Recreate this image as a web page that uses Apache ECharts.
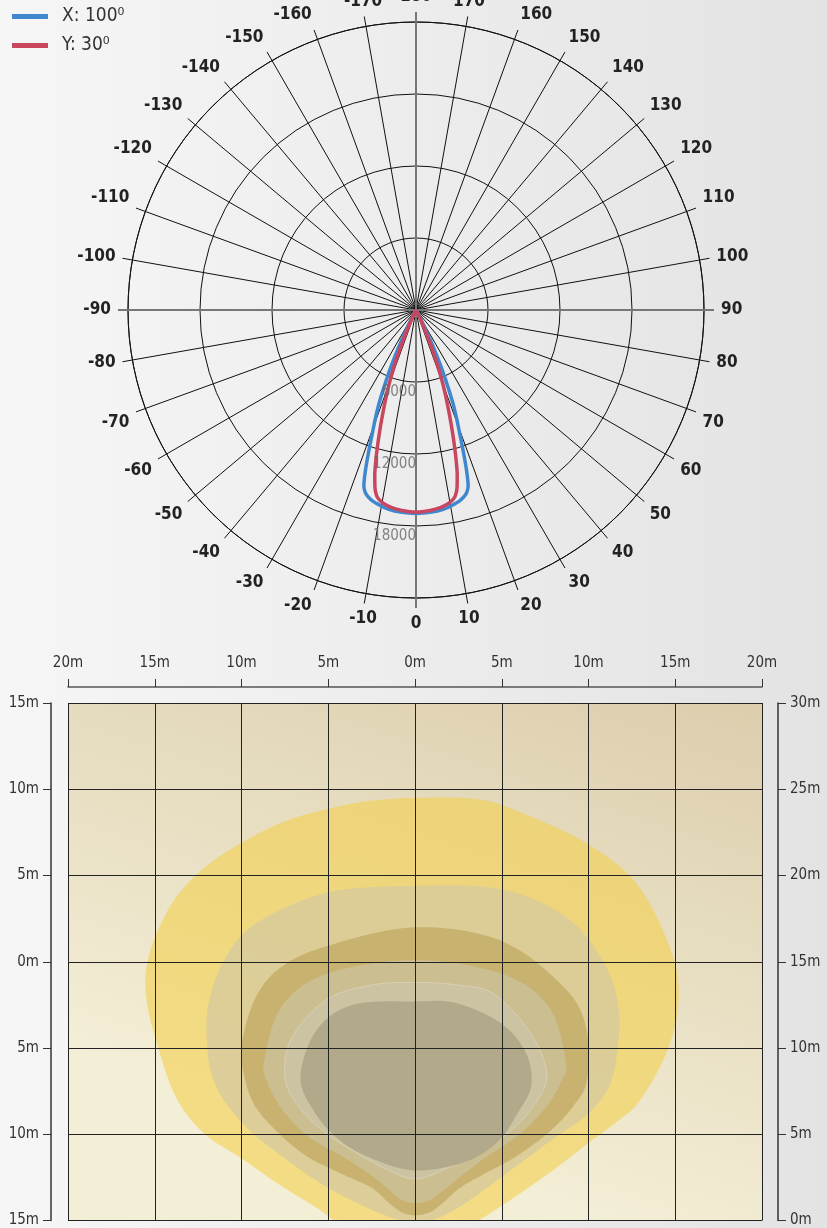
<!DOCTYPE html>
<html><head><meta charset="utf-8">
<script src="https://cdn.jsdelivr.net/npm/echarts@6/dist/echarts.min.js"></script>
<style>html,body{margin:0;padding:0;width:827px;height:1228px;overflow:hidden}#c{width:827px;height:1228px}</style>
</head><body><div id="c"></div>
<script>
const FONT = "'Liberation Sans Narrow','DejaVu Sans Condensed',Roboto,sans-serif";

// ---------- polar (candela) data ----------
const seriesNames = ['X: 100\u2070', 'Y: 30\u2070'];
const blueAngles = [-32,-29,-27.5,-26.5,-25.5,-24.5,-23.5,-22.5,-21.5,-20.5,-19.5,-18.5,-17.5,-16.5,-15.5,-14.5,-13,-11,-8,-4,0,4,8,11,13,14.5,15.5,16.5,17.5,18.5,19.5,20.5,21.5,22.5,23.5,24.5,25.5,26.5,27.5,29,32];
const blueValues = [0,150,700,1600,2800,4200,5600,7000,8500,9700,10900,12400,14000,15300,15800,16050,16300,16500,16750,16900,16950,16900,16750,16500,16300,16050,15800,15300,14000,12400,10900,9700,8500,7000,5600,4200,2800,1600,700,150,0];
const redAngles = [-28,-26,-25,-24,-23,-22,-21,-20,-19,-18,-17,-16,-15,-14,-13,-12,-11,-9.5,-7,-4,0,4,7,9.5,11,12,13,14,15,16,17,18,19,20,21,22,23,24,25,26,28];
const redValues = [0,300,900,1800,2900,4100,5300,6500,7600,8800,10100,11500,12900,14200,15200,15800,16100,16350,16600,16750,16850,16750,16600,16350,16100,15800,15200,14200,12900,11500,10100,8800,7600,6500,5300,4100,2900,1800,900,300,0];
const radiusLabelValues = [6000, 12000, 18000];

// ---------- isolux contour data (metres) ----------
const contourA = [[0,9.5],[3.8,9.4],[6.7,8.4],[10,6.8],[12.8,4.5],[14.7,0.8],[15.2,-2],[14.6,-5],[13,-8],[11.6,-9.3],[10,-10.5],[7.8,-12.2],[5.2,-14.0],[2.9,-15.4],[0,-16.4],[-3.9,-15.4],[-5.6,-14.3],[-7.7,-13],[-10,-11.4],[-12.1,-10],[-13.7,-8],[-14.8,-5],[-15.5,-2],[-15.3,0.5],[-14.0,3.4],[-12.2,5.4],[-10,6.9],[-7.6,8.1],[-5.3,8.8],[-2.8,9.3]];
const contourB = [[0,4.4],[5.0,4.2],[8.7,2.6],[10.8,0.1],[11.7,-2.4],[11.7,-4.9],[11.2,-7.2],[10.0,-8.8],[8.2,-10.1],[5.9,-11.8],[3.6,-13.5],[1.9,-14.6],[0,-15.3],[-1.2,-14.9],[-2.9,-14.2],[-5.2,-13],[-7.5,-11.4],[-9.4,-9.9],[-10.9,-8.2],[-11.7,-6.6],[-12.0,-4.6],[-11.9,-2.4],[-11.0,0.1],[-9.2,2.2],[-5.1,4.0]];
const contourC = [[0,2.0],[5.0,1.2],[8.7,-1.6],[9.9,-4.0],[9.9,-6.9],[9.1,-8.4],[7.7,-9.9],[5.8,-11.3],[3.8,-12.4],[2.6,-13.1],[1.7,-13.9],[0.9,-14.5],[0,-14.7],[-0.8,-14.5],[-1.6,-13.9],[-2.5,-13.1],[-4.0,-12.4],[-6.2,-11.3],[-7.9,-9.9],[-9.2,-8.4],[-9.8,-6.8],[-10,-4.9],[-9.2,-2.1],[-7.7,-0.3],[-5.1,0.9]];
const contourD = [[0,0.1],[5.0,-0.7],[7.7,-2.6],[8.7,-5.8],[8.4,-7.0],[7.5,-8.5],[5.9,-10.1],[4.0,-11.4],[2.7,-12.4],[1.7,-13.2],[0.9,-13.8],[0,-14.0],[-0.8,-13.8],[-1.5,-13.2],[-2.5,-12.4],[-4.0,-11.4],[-6.2,-10.1],[-7.7,-8.5],[-8.5,-7.0],[-8.7,-5.8],[-7.7,-2.6],[-5.1,-0.7]];
const contourE = [[0,-1.2],[2.5,-1.35],[4.6,-1.9],[6.7,-4.2],[7.6,-6.6],[6.8,-8.4],[5.4,-9.9],[3.7,-11.0],[1.8,-12.0],[0,-12.6],[-1.7,-12.0],[-3.5,-11.0],[-5.2,-9.9],[-6.7,-8.4],[-7.5,-6.7],[-7.1,-4.4],[-5.1,-2.2],[-2.5,-1.35]];
const contourF = [[0,-2.3],[2.4,-2.4],[5.0,-3.6],[6.4,-5.3],[6.7,-7.2],[5.9,-8.8],[4.8,-10.4],[2.9,-11.6],[0,-12.1],[-2.5,-11.4],[-4.4,-10.3],[-5.8,-8.7],[-6.6,-6.7],[-5.7,-4.0],[-3.6,-2.5]];
const contours = [contourA, contourB, contourC, contourD, contourE, contourF];

// styles (kept apart from data)
const contourFills = ['rgba(242,208,80,0.62)','rgba(214,201,160,0.75)','rgba(194,168,98,0.75)','rgba(203,191,152,0.85)','rgba(204,196,166,0.85)','rgba(176,168,138,0.95)'];
const contourStrokes = ['none','none','none','none','rgba(240,236,222,0.35)','none'];

// render helper: closed Catmull-Rom outline drawn as cubic Bezier segments (pixel space)
function smoothOutline(px, steps) {
  const n = px.length, out = [];
  for (let i = 0; i < n; i++) {
    const p0 = px[(i - 1 + n) % n], p1 = px[i], p2 = px[(i + 1) % n], p3 = px[(i + 2) % n];
    const c1 = [p1[0] + (p2[0] - p0[0]) / 6, p1[1] + (p2[1] - p0[1]) / 6];
    const c2 = [p2[0] - (p3[0] - p1[0]) / 6, p2[1] - (p3[1] - p1[1]) / 6];
    for (let s = 0; s < steps; s++) {
      const t = s / steps, u = 1 - t;
      out.push([
        u*u*u*p1[0] + 3*u*u*t*c1[0] + 3*u*t*t*c2[0] + t*t*t*p2[0],
        u*u*u*p1[1] + 3*u*u*t*c1[1] + 3*u*t*t*c2[1] + t*t*t*p2[1]
      ]);
    }
  }
  return out;
}

const chart = echarts.init(document.getElementById('c'), null, {renderer:'canvas'});
const option = {
  animation: false,
  backgroundColor: {type:'linear',x:0,y:0,x2:1,y2:0,colorStops:[{offset:0,color:'#f6f6f6'},{offset:1,color:'#e3e3e3'}]},
  legend: {
    left: 7, top: 2, orient: 'vertical', icon: 'rect', itemWidth: 36, itemHeight: 5, itemGap: 10,
    data: seriesNames,
    textStyle: {fontFamily: FONT, fontSize: 19, color: '#333', padding: [0,0,0,9]}
  },
  polar: [{center:[416,310], radius:288}, {center:[416,310], radius:288}],
  angleAxis: [
    {polarIndex:0, type:'value', min:-180, max:180, interval:10, startAngle:90, clockwise:false,
     axisLine:{show:true, lineStyle:{color:'#111', width:1}},
     axisTick:{show:true, inside:false, length:10, lineStyle:{color:'#111', width:1}},
     axisLabel:{show:true, margin:17, color:'#222', fontFamily:FONT, fontWeight:'bold', fontSize:17,
       formatter: v => (v === -180 || v === 180) ? '180' : String(v)},
     splitLine:{show:true, lineStyle:{color:'#111', width:1}}},
    {polarIndex:1, type:'value', min:-180, max:180, interval:90, startAngle:90, clockwise:false, z:1,
     axisLine:{show:false},
     axisTick:{show:true, inside:false, length:10, lineStyle:{color:'#777', width:2}},
     axisLabel:{show:false},
     splitLine:{show:true, lineStyle:{color:'#777', width:2}}}
  ],
  radiusAxis: [
    {polarIndex:0, type:'value', min:0, max:24000, interval:6000,
     axisLine:{show:false}, axisTick:{show:false}, axisLabel:{show:false},
     splitLine:{show:true, lineStyle:{color:'#111', width:1}}},
    {polarIndex:1, type:'value', min:0, max:24000, interval:24000,
     axisLine:{show:false}, axisTick:{show:false}, axisLabel:{show:false}, splitLine:{show:false}}
  ],
  grid: {left:68, right:65, top:703, bottom:6, show:true, borderWidth:0,
    backgroundColor:{type:'linear',x:1,y:0,x2:0.75,y2:1,colorStops:[{offset:0,color:'#dccead'},{offset:1,color:'#f3eed6'}]}},
  xAxis: [{type:'value', position:'top', offset:16, min:-20, max:20, interval:5, z:10,
    axisLine:{show:true, onZero:false, lineStyle:{color:'#555', width:1.5}},
    axisTick:{show:true, inside:false, length:8, lineStyle:{color:'#333'}},
    axisLabel:{margin:16, formatter: v => Math.abs(v) + 'm', color:'#333', fontFamily:FONT, fontSize:15},
    splitLine:{show:true, lineStyle:{color:'#222', width:1}}}],
  yAxis: [
    {type:'value', position:'left', offset:17, min:-15, max:15, interval:5, z:10,
     axisLine:{show:true, onZero:false, lineStyle:{color:'#333', width:1.5}},
     axisTick:{show:true, inside:false, length:8, lineStyle:{color:'#333'}},
     axisLabel:{margin:12, formatter: v => Math.abs(v) + 'm', color:'#333', fontFamily:FONT, fontSize:15},
     splitLine:{show:true, lineStyle:{color:'#222', width:1}}},
    {type:'value', position:'right', offset:16, min:0, max:30, interval:5, z:10,
     axisLine:{show:true, onZero:false, lineStyle:{color:'#333', width:1.5}},
     axisTick:{show:true, inside:false, length:8, lineStyle:{color:'#333'}},
     axisLabel:{margin:12, formatter: v => v + 'm', color:'#333', fontFamily:FONT, fontSize:15},
     splitLine:{show:false}}
  ],
  series: [
    {name: seriesNames[0], type:'line', coordinateSystem:'polar', polarIndex:0, showSymbol:false, smooth:0.3, z:3,
     itemStyle:{color:'#3f88cf'}, lineStyle:{color:'#3f88cf', width:3.5},
     data: blueAngles.map((a,i) => [blueValues[i], a])},
    {name: seriesNames[1], type:'line', coordinateSystem:'polar', polarIndex:0, showSymbol:false, smooth:0.3, z:4,
     itemStyle:{color:'#c9465f'}, lineStyle:{color:'#c9465f', width:3.5},
     data: redAngles.map((a,i) => [redValues[i], a])},
    {type:'scatter', coordinateSystem:'polar', polarIndex:0, symbolSize:0, z:5, silent:true,
     data: radiusLabelValues.map(v => [v, 0]),
     label:{show:true, position:'left', distance:0, offset:[0,10], formatter: p => String(p.value[0]),
       color:'#666', fontSize:15, fontFamily:FONT}},
    {type:'custom', coordinateSystem:'cartesian2d', xAxisIndex:0, yAxisIndex:0, z:2, silent:true,
     data: contours.map((c,i) => [i]),
     renderItem: (params, api) => {
       const i = api.value(0);
       const px = contours[i].map(p => api.coord(p));
       const cs = params.coordSys;
       return {type:'polygon', shape:{points: smoothOutline(px, 12)},
         style:{fill:contourFills[i], stroke:contourStrokes[i], lineWidth:1},
         clipPath:{type:'rect', shape:{x:cs.x, y:cs.y, width:cs.width, height:cs.height}}};
     }}
  ]
};
chart.setOption(option);
</script></body></html>
